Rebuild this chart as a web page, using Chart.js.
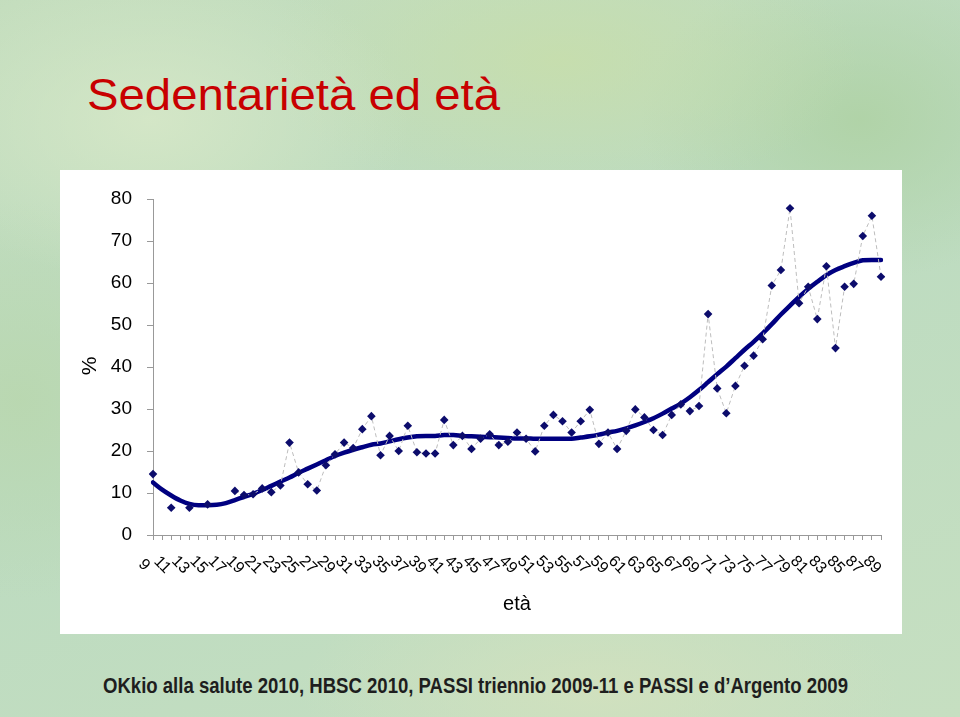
<!DOCTYPE html>
<html>
<head>
<meta charset="utf-8">
<script src="https://cdn.jsdelivr.net/npm/chart.js@4/dist/chart.umd.min.js"></script>
<style>
html,body{margin:0;padding:0;width:960px;height:717px;overflow:hidden;}
body{position:relative;font-family:"Liberation Sans",Arial,sans-serif;
 background:
  radial-gradient(ellipse 260px 160px at 150px 120px, rgba(215,232,200,0.85), rgba(215,232,200,0) 100%),
  radial-gradient(ellipse 300px 140px at 560px 60px, rgba(200,222,170,0.8), rgba(200,222,170,0) 100%),
  radial-gradient(ellipse 220px 160px at 860px 120px, rgba(175,210,165,0.9), rgba(175,210,165,0) 100%),
  radial-gradient(ellipse 300px 120px at 600px 690px, rgba(210,225,190,0.9), rgba(210,225,190,0) 100%),
  radial-gradient(ellipse 200px 200px at 20px 400px, rgba(185,215,175,0.9), rgba(185,215,175,0) 100%),
  linear-gradient(160deg, #c3ddbd 0%, #bcdbc0 45%, #c6dfc1 100%);}
#title{position:absolute;left:87px;top:72px;font-size:45px;line-height:45px;color:#c80000;white-space:nowrap;transform-origin:0 0;}
#panel{position:absolute;left:60px;top:170px;width:842px;height:464px;background:#fff;}
#chart{position:absolute;left:0;top:0;}
#footer{position:absolute;left:103px;top:675px;font-size:22px;line-height:22px;font-weight:bold;color:#1e1e1e;white-space:nowrap;transform-origin:0 0;}
</style>
</head>
<body>
<div id="title">Sedentarietà ed età</div>
<div id="panel"><canvas id="chart" width="842" height="464" style="width:842px;height:464px"></canvas></div>
<div id="footer">OKkio alla salute 2010, HBSC 2010, PASSI triennio 2009-11 e PASSI e d’Argento 2009</div>
<script>
// Categories: age in years
const ages = [9,10,11,12,13,14,15,16,17,18,19,20,21,22,23,24,25,26,27,28,29,30,31,32,33,34,35,36,37,38,39,40,
  41,42,43,44,45,46,47,48,49,50,51,52,53,54,55,56,57,58,59,60,61,62,63,64,65,66,67,68,69,70,
  71,72,73,74,75,76,77,78,79,80,81,82,83,84,85,86,87,88,89];
// Tick labels shown on the x axis
const tickLabels = [9,11,13,15,17,19,21,23,25,27,29,31,33,35,37,39,41,43,45,47,49,51,53,55,57,59,61,63,65,67,69,71,73,75,77,79,81,83,85,87,89];
// % sedentari per età (observed points)
const sedentari = [14.5,null,6.5,null,6.5,null,7.3,null,null,10.5,9.5,9.7,11.1,10.2,11.8,22.0,14.9,12.1,10.6,16.6,19.2,22.0,20.7,25.2,28.3,19.0,
  23.6,20.0,26.0,19.7,19.4,19.4,27.4,21.4,23.6,20.5,22.9,24.0,21.4,22.2,24.4,22.9,19.9,26.0,28.6,27.1,24.4,27.1,29.8,21.7,24.4,
  20.5,24.8,29.9,28.0,25.0,23.8,28.6,31.1,29.5,30.7,52.6,34.9,29.0,35.5,40.3,42.7,46.6,59.4,63.1,77.8,55.2,59.1,51.4,64.0,44.5,
  59.1,59.8,71.2,76.0,61.5];
// Smoothed trend
const andamento = [12.5,10.8,9.4,8.2,7.4,7.1,7.1,7.2,7.6,8.3,9.1,9.8,10.7,11.7,12.7,13.7,14.8,15.8,16.8,17.8,18.8,19.6,20.3,20.9,21.5,21.8,
  22.3,22.8,23.2,23.5,23.6,23.6,23.8,23.8,23.6,23.5,23.4,23.3,23.2,23.1,23.0,23.0,22.9,22.9,22.9,22.9,22.9,23.2,23.5,23.9,24.4,
  24.8,25.4,26.1,26.9,27.8,28.9,30.1,31.3,32.8,34.5,36.4,38.3,40.1,42.1,44.1,46.0,48.0,50.2,52.5,54.6,56.7,58.6,60.3,61.9,63.1,
  64.0,64.8,65.4,65.5,65.5];
const yTicks = [0,10,20,30,40,50,60,70,80];

const FONT = '"Liberation Sans", Arial, sans-serif';

function fitWidth(id, target){
  const el = document.getElementById(id);
  const w = el.getBoundingClientRect().width;
  el.style.transform = 'scaleX(' + (target / w) + ')';
}
fitWidth('title', 413);
fitWidth('footer', 745);

const labelPlugin = {
  id: 'customLabels',
  afterDraw(chart){
    const c = chart.ctx, xs = chart.scales.x, area = chart.chartArea;
    c.save();
    c.fillStyle = '#000';
    c.font = '16px ' + FONT;
    c.textAlign = 'center';
    c.textBaseline = 'middle';
    tickLabels.forEach(function(lab){
      const i = ages.indexOf(lab);
      const x = xs.getPixelForValue(i);
      c.save();
      c.translate(x - 9, area.bottom + 30);
      c.rotate(Math.PI / 4);
      c.fillText(String(lab), 0, 0);
      c.restore();
    });
    c.font = '20px ' + FONT;
    c.fillText('età', 457, 434);
    c.save();
    c.translate(30, 196);
    c.rotate(-Math.PI / 2);
    c.font = '21px ' + FONT;
    c.fillText('%', 0, 0);
    c.restore();
    c.restore();
  }
};

new Chart(document.getElementById('chart'), {
  type: 'line',
  data: {
    labels: ages,
    datasets: [
      {
        label: 'Sedentari',
        data: sedentari,
        order: 1,
        borderColor: '#bdbdbd',
        borderWidth: 1,
        borderDash: [4, 3],
        pointStyle: 'rectRot',
        pointRadius: 4.3,
        pointBackgroundColor: '#0c0c6c',
        pointBorderColor: '#0c0c6c',
        pointBorderWidth: 0,
        spanGaps: false,
        tension: 0
      },
      {
        label: 'Andamento',
        data: andamento,
        order: 2,
        borderColor: '#000080',
        borderWidth: 4.5,
        pointRadius: 0,
        cubicInterpolationMode: 'monotone',
        borderCapStyle: 'round',
        borderJoinStyle: 'round'
      }
    ]
  },
  options: {
    responsive: false,
    animation: false,
    layout: { padding: { top: 29, right: 21, left: 0, bottom: 0 } },
    plugins: { legend: { display: false }, tooltip: { enabled: false } },
    scales: {
      x: {
        offset: false,
        grid: { display: true, drawOnChartArea: false, drawTicks: true, tickLength: 5, color: '#999' },
        border: { color: '#999', width: 1 },
        ticks: { display: false, autoSkip: false },
        afterFit(s){ s.height = 99; }
      },
      y: {
        min: 0, max: 80,
        afterBuildTicks(s){ s.ticks = yTicks.map(v => ({ value: v })); },
        ticks: { color: '#000', font: { size: 19, family: FONT }, padding: 15 },
        grid: { drawOnChartArea: false, drawTicks: true, tickLength: 6, color: '#999' },
        border: { color: '#999', width: 1 },
        afterFit(s){ s.width = 93; }
      }
    }
  },
  plugins: [labelPlugin]
});
</script>
</body>
</html>
